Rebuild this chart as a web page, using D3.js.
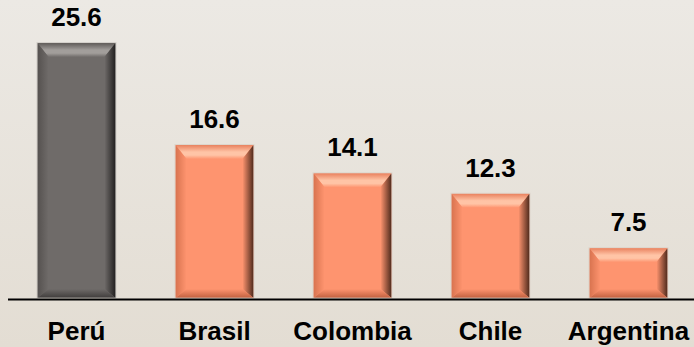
<!DOCTYPE html>
<html>
<head>
<meta charset="utf-8">
<script src="https://cdn.jsdelivr.net/npm/d3@7"></script>
<style>
  html, body { margin: 0; padding: 0; }
  body { width: 694px; height: 347px; overflow: hidden; }
  svg { display: block; }
</style>
</head>
<body>
<svg id="chart" width="694" height="347"></svg>
<script>
// Data
const countries = ["Perú", "Brasil", "Colombia", "Chile", "Argentina"];
const values = [25.6, 16.6, 14.1, 12.3, 7.5];
const highlighted = "Perú";

const W = 694, H = 347;
const baseY = 298;
const svg = d3.select("#chart");
const defs = svg.append("defs");

// Background wash
const bg = defs.append("linearGradient").attr("id", "bg")
  .attr("x1", 0).attr("y1", 0).attr("x2", 0).attr("y2", 1);
bg.append("stop").attr("offset", "0%").attr("stop-color", "#ece9e4");
bg.append("stop").attr("offset", "100%").attr("stop-color", "#e3ddd3");
svg.append("rect").attr("width", W).attr("height", H).attr("fill", "url(#bg)");

const x = d3.scaleBand().domain(countries).range([7.5, 697.5]).paddingInner(0.435).paddingOuter(0.2175);
const y = d3.scaleLinear().domain([3.1, 29.4]).range([baseY, 0]);

// Bevel palettes
const palettes = {
  gray:   { face: "#6f6b69", topA: "#5e5a58", topHi: "#a29e9b", left: "#55514f", right: "#222020", bottom: "#3f3c3b", edge: "#c9c5bf" },
  salmon: { face: "#fe946f", topA: "#e9815e", topHi: "#ffc4a6", left: "#d8734f", right: "#4f2a1c", bottom: "#c0603f", edge: "#d9cfc4" }
};

function grad(id, x1, y1, x2, y2, stops) {
  const g = defs.append("linearGradient").attr("id", id)
    .attr("x1", x1).attr("y1", y1).attr("x2", x2).attr("y2", y2);
  stops.forEach(([o, c]) => g.append("stop").attr("offset", o).attr("stop-color", c));
}

Object.entries(palettes).forEach(([k, p]) => {
  grad(k + "-top", 0, 0, 0, 1, [["0%", p.topA], ["50%", p.topHi], ["72%", p.topHi], ["100%", p.face]]);
  grad(k + "-left", 0, 0, 1, 0, [["0%", p.left], ["100%", p.face]]);
  grad(k + "-right", 0, 0, 1, 0, [["0%", p.face], ["100%", p.right]]);
  grad(k + "-bottom", 0, 0, 0, 1, [["0%", p.face], ["100%", p.bottom]]);
});

const bevT = 14, bev = 11, bevB = 9;
const bars = svg.append("g").selectAll("g").data(countries).join("g");

bars.each(function(c, i) {
  const g = d3.select(this);
  const k = c === highlighted ? "gray" : "salmon";
  const p = palettes[k];
  const x0 = x(c), x1 = x(c) + x.bandwidth();
  const y0 = y(values[i]), y1 = baseY;
  g.append("rect").attr("x", x0).attr("y", y0).attr("width", x1 - x0).attr("height", y1 - y0)
    .attr("fill", p.face);
  const poly = (pts, fill) => g.append("polygon").attr("points", pts.map(q => q.join(",")).join(" ")).attr("fill", fill);
  poly([[x0, y0], [x1, y0], [x1 - bev, y0 + bevT], [x0 + bev, y0 + bevT]], `url(#${k}-top)`);
  poly([[x0, y0], [x0 + bev, y0 + bevT], [x0 + bev, y1 - bevB], [x0, y1]], `url(#${k}-left)`);
  poly([[x1, y0], [x1, y1], [x1 - bev, y1 - bevB], [x1 - bev, y0 + bevT]], `url(#${k}-right)`);
  poly([[x0, y1], [x0 + bev, y1 - bevB], [x1 - bev, y1 - bevB], [x1, y1]], `url(#${k}-bottom)`);
  g.append("rect").attr("x", x0 - 0.5).attr("y", y0 - 0.5).attr("width", x1 - x0 + 1).attr("height", y1 - y0 + 0.5)
    .attr("fill", "none").attr("stroke", p.edge).attr("stroke-width", 1).attr("opacity", 0.7);
});

// Value labels
svg.append("g").selectAll("text").data(countries).join("text")
  .attr("x", c => x(c) + x.bandwidth() / 2)
  .attr("y", (c, i) => y(values[i]) - 17)
  .attr("text-anchor", "middle")
  .attr("font-family", "Arial, 'Liberation Sans', sans-serif")
  .attr("font-weight", "bold")
  .attr("font-size", 26)
  .attr("fill", "#000")
  .text((c, i) => values[i].toFixed(1));

// Category axis
const axis = svg.append("g").attr("transform", `translate(0,${baseY + 1})`)
  .call(d3.axisBottom(x).tickSize(0).tickSizeOuter(0));
axis.select(".domain").attr("stroke", "#000").attr("stroke-width", 2);
axis.selectAll("text")
  .attr("y", 41).attr("dy", null)
  .attr("font-family", "Arial, 'Liberation Sans', sans-serif")
  .attr("font-weight", "bold")
  .attr("font-size", 26)
  .attr("fill", "#000");
</script>
</body>
</html>
